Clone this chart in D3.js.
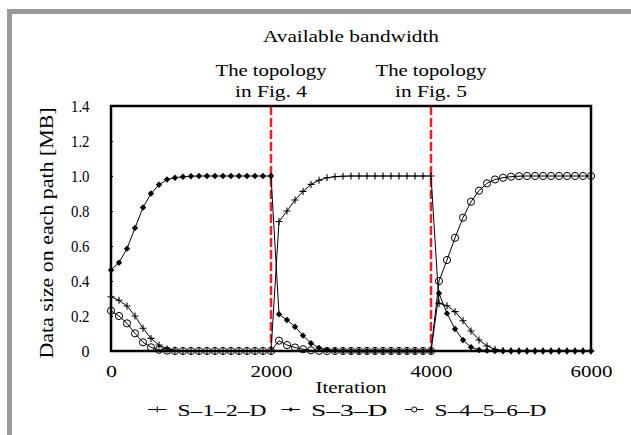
<!DOCTYPE html>
<html><head><meta charset="utf-8">
<script src="https://cdn.jsdelivr.net/npm/d3@7"></script>
<style>body{margin:0;background:#fff}svg{display:block}text{font-family:"Liberation Serif","Times New Roman",serif;fill:#000}</style>
</head><body>
<script>
const iterations = d3.range(0, 6001, 100);
const seriesNames = ["S\u20131\u20132\u2013D", "S\u20133\u2013D", "S\u20134\u20135\u20136\u2013D"];
const s12 = [0.31,0.29,0.257,0.20,0.13,0.072,0.034,0.012,0.004,0.001,0,0,0,0,0,0,0,0,0,0,0,
  0.74,0.80,0.863,0.912,0.952,0.976,0.99,0.996,0.999,1,1,1,1,1,1,1,1,1,1,1,
  0.272,0.259,0.225,0.173,0.114,0.063,0.029,0.01,0.003,0.001,0,0,0,0,0,0,0,0,0,0];
const s3 = [0.463,0.505,0.585,0.703,0.82,0.90,0.95,0.98,0.99,0.996,0.999,1,1,1,1,1,1,1,1,1,1,
  0.21,0.177,0.139,0.088,0.044,0.018,0.006,0.002,0.001,0,0,0,0,0,0,0,0,0,0,0,
  0.33,0.215,0.126,0.063,0.022,0.006,0.002,0,0,0,0,0,0,0,0,0,0,0,0,0];
const s456 = [0.23,0.20,0.158,0.101,0.05,0.021,0.007,0.002,0,0,0,0,0,0,0,0,0,0,0,0,0,
  0.059,0.034,0.02,0.01,0.004,0.001,0,0,0,0,0,0,0,0,0,0,0,0,0,0,
  0.40,0.52,0.647,0.762,0.853,0.916,0.958,0.98,0.99,0.996,0.999,1,1,1,1,1,1,1,1,1];
const xTicks = [0, 2000, 4000, 6000];
const yTicks = [0, 0.2, 0.4, 0.6, 0.8, 1.0, 1.2, 1.4];
const changePoints = [2000, 4000];
const topTitle = "Available bandwidth";
const eventLabels = [["The topology","in Fig. 4"],["The topology","in Fig. 5"]];

const W = 631, H = 435;
const m = {l:111, r:591, t:106, b:351};
const svg = d3.select("body").append("svg").attr("width", W).attr("height", H);
const SERIF = '"Liberation Serif","Times New Roman",serif';

svg.append("rect").attr("x",9.5).attr("y",11.5).attr("width",W+20).attr("height",H+20)
  .attr("fill","none").attr("stroke","#9a9a9a").attr("stroke-width",5);

const x = d3.scaleLinear().domain([0,6000]).range([m.l, m.r]);
const y = d3.scaleLinear().domain([0,1.4]).range([m.b, m.t]);

// y axis ticks & labels
const yAxis = d3.axisLeft(y).tickValues(yTicks).tickSize(-2).tickPadding(21.5)
  .tickFormat(d => d === 0 ? "0" : d3.format(".1f")(d));
const gy = svg.append("g").attr("transform",`translate(${m.l},0)`).call(yAxis);
gy.select(".domain").remove();
gy.selectAll("text").attr("font-size",17).style("font-family",SERIF).attr("fill","#000")
  .attr("textLength", d => d === 0 ? 8 : 18.5).attr("lengthAdjust","spacingAndGlyphs");
gy.selectAll("line").attr("stroke","#000");

const xAxis = d3.axisBottom(x).tickValues(xTicks).tickSize(0).tickPadding(14.5).tickFormat(d3.format("d"));
const gx = svg.append("g").attr("transform",`translate(0,${m.b})`).call(xAxis);
gx.select(".domain").remove();
gx.selectAll("text").attr("font-size",16).style("font-family",SERIF).attr("fill","#000")
  .attr("textLength", d => d === 0 ? 11 : 42).attr("lengthAdjust","spacingAndGlyphs");

// red dashed
svg.selectAll(".chg").data(changePoints).enter().append("line")
  .attr("x1", d=>x(d)).attr("x2", d=>x(d)).attr("y1", m.t).attr("y2", m.b)
  .attr("stroke","#ff1a1a").attr("stroke-width",2.5).attr("stroke-dasharray","9,3");

const line = d3.line().x((d,i)=>x(iterations[i])).y(d=>y(d));
const series = [s12, s3, s456];
series.forEach(s => {
  svg.append("path").attr("d", line(s)).attr("fill","none").attr("stroke","#000").attr("stroke-width",1);
});

function plus(g, cx, cy, h) {
  g.append("path").attr("d",`M${cx-h},${cy}H${cx+h}M${cx},${cy-h}V${cy+h}`).attr("stroke","#000").attr("stroke-width",1.1);
}
function diamond(g, cx, cy, h) {
  g.append("path").attr("d",`M${cx},${cy-h}L${cx+h},${cy}L${cx},${cy+h}L${cx-h},${cy}Z`).attr("fill","#000");
}
function circ(g, cx, cy, r) {
  g.append("circle").attr("cx",cx).attr("cy",cy).attr("r",r).attr("fill","none").attr("stroke","#000").attr("stroke-width",1);
}
const gm = svg.append("g");
s12.forEach((v,i)=>plus(gm, x(iterations[i]), y(v), 3.5));
s3.forEach((v,i)=>diamond(gm, x(iterations[i]), y(v), 3.2));
s456.forEach((v,i)=>circ(gm, x(iterations[i]), y(v), 3.6));

// frame
svg.append("rect").attr("x",m.l).attr("y",m.t).attr("width",m.r-m.l).attr("height",m.b-m.t)
  .attr("fill","none").attr("stroke","#000").attr("stroke-width",2.5);

// titles
svg.append("text").attr("x",351).attr("y",41.7).attr("text-anchor","middle").attr("font-size",17)
  .attr("textLength",176).attr("lengthAdjust","spacingAndGlyphs").text(topTitle);
eventLabels.forEach((lab,i)=>{
  const cx = x(changePoints[i]);
  svg.append("text").attr("x",cx).attr("y",76).attr("text-anchor","middle").attr("font-size",17)
    .attr("textLength",111).attr("lengthAdjust","spacingAndGlyphs").text(lab[0]);
  svg.append("text").attr("x",cx).attr("y",96.7).attr("text-anchor","middle").attr("font-size",17)
    .attr("textLength",72).attr("lengthAdjust","spacingAndGlyphs").text(lab[1]);
});

// axis titles
svg.append("text").attr("x",351).attr("y",393).attr("text-anchor","middle").attr("font-size",17)
  .attr("textLength",71).attr("lengthAdjust","spacingAndGlyphs").text("Iteration");
svg.append("text").attr("transform","translate(53,233) rotate(-90)").attr("text-anchor","middle").attr("font-size",19)
  .attr("textLength",251).attr("lengthAdjust","spacingAndGlyphs").text("Data size on each path [MB]");

// legend
const legX = [148, 281.5, 405];
const legTextLen = [89, 76.5, 112];
const ly = 409.5;
const gl = svg.append("g");
seriesNames.forEach((n,i)=>{
  gl.append("line").attr("x1",legX[i]).attr("x2",legX[i]+18.5).attr("y1",ly).attr("y2",ly).attr("stroke","#000").attr("stroke-width",1);
  const cx = legX[i]+9.25;
  if (i===0) plus(gl, cx, ly, 3);
  else if (i===1) diamond(gl, cx, ly, 2.3);
  else { gl.append("circle").attr("cx",cx).attr("cy",ly).attr("r",2.6).attr("fill","#fff").attr("stroke","#000").attr("stroke-width",1); }
  gl.append("text").attr("x",legX[i]+29.5).attr("y",415.5).attr("font-size",17)
    .attr("textLength",legTextLen[i]).attr("lengthAdjust","spacingAndGlyphs").text(n);
});
</script>
</body></html>
